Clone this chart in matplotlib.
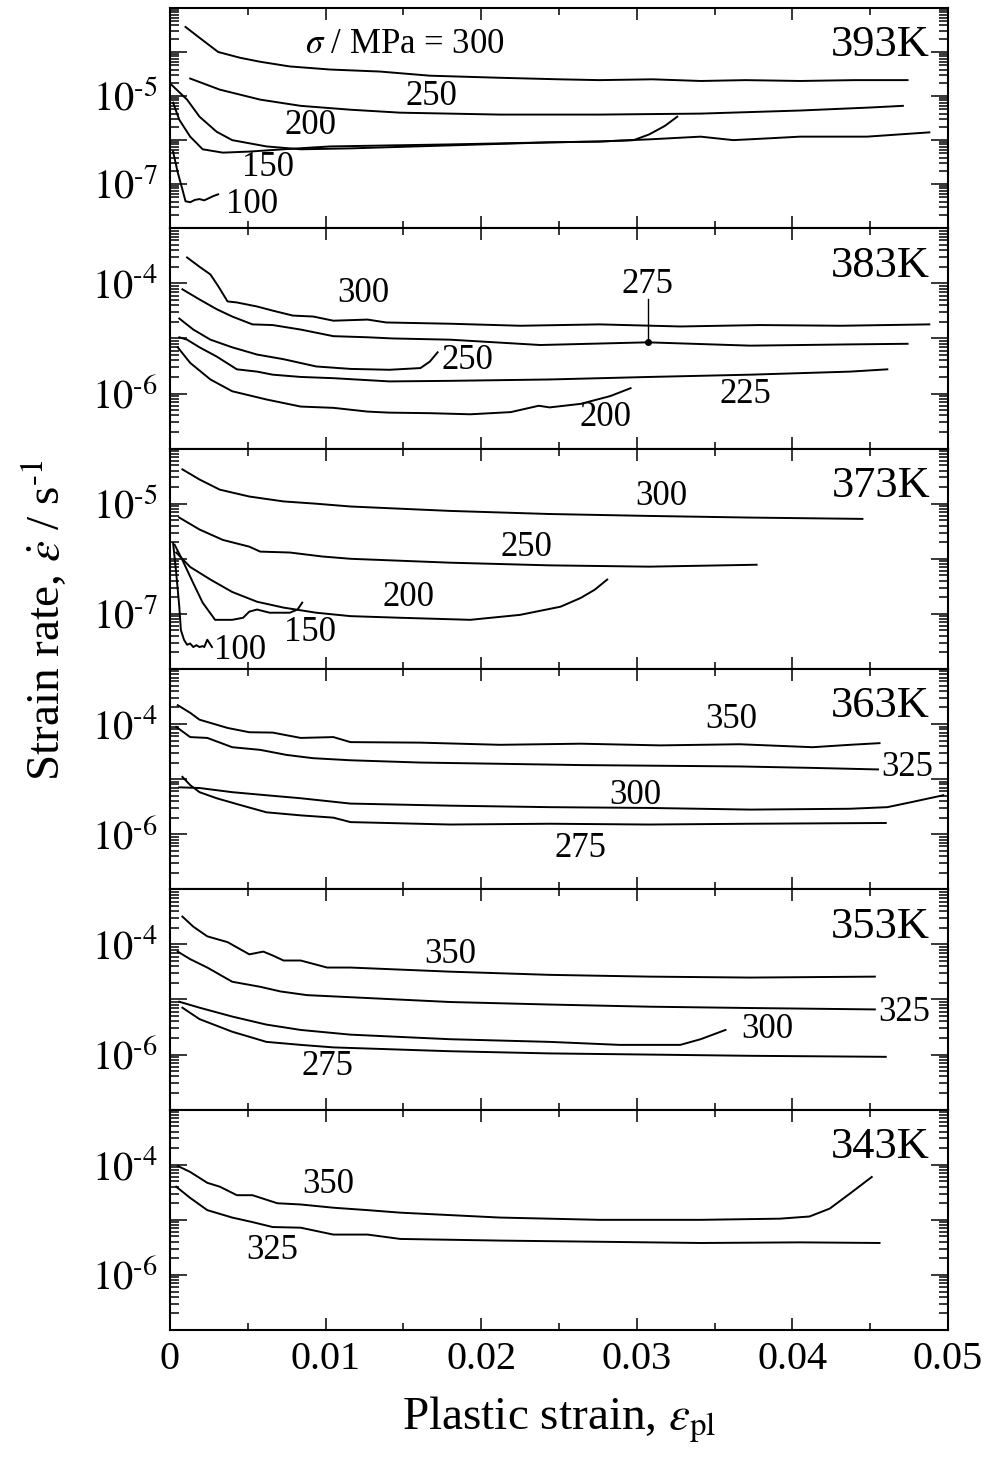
import numpy as np
import matplotlib.pyplot as plt
from matplotlib.ticker import LogLocator, FuncFormatter, MultipleLocator, NullFormatter

plt.rcParams['font.family'] = 'Liberation Serif'
plt.rcParams['mathtext.fontset'] = 'stix'

# ---- 393 K ----
x_393_300 = [0.0010, 0.0019, 0.0031, 0.0045, 0.0058, 0.0077, 0.0103, 0.0135, 0.0167, 0.0212, 0.0250,
             0.0276, 0.0310, 0.0341, 0.0370, 0.0405, 0.0440, 0.0474]
r_393_300 = [3.7e-4, 2.1e-4, 1.0e-4, 7.4e-5, 6.0e-5, 4.7e-5, 4.0e-5, 3.6e-5, 2.9e-5, 2.6e-5, 2.4e-5,
             2.3e-5, 2.4e-5, 2.2e-5, 2.3e-5, 2.2e-5, 2.3e-5, 2.3e-5]
x_393_250 = [0.0013, 0.0032, 0.0058, 0.0084, 0.0116, 0.0148, 0.0212, 0.0276, 0.0341, 0.0405, 0.0450, 0.0471]
r_393_250 = [2.5e-5, 1.4e-5, 8.3e-6, 6.0e-6, 4.9e-6, 4.2e-6, 3.8e-6, 3.8e-6, 4.0e-6, 4.7e-6, 5.5e-6, 6.0e-6]
x_393_200 = [0.0001, 0.0011, 0.0019, 0.0030, 0.0040, 0.0062, 0.0084, 0.0116, 0.0180, 0.0244, 0.0276,
             0.0298, 0.0308, 0.0318, 0.0326]
r_393_200 = [1.8e-5, 8.3e-6, 3.4e-6, 1.55e-6, 1.0e-6, 7.2e-7, 6.2e-7, 6.5e-7, 7.6e-7, 8.9e-7, 9.3e-7,
             1.0e-6, 1.35e-6, 2.1e-6, 3.4e-6]
x_393_150 = [0.0002, 0.0006, 0.0013, 0.0021, 0.0034, 0.0051, 0.0073, 0.0103, 0.0180, 0.0244, 0.0276,
             0.0310, 0.0341, 0.0362, 0.0385, 0.0405, 0.0448, 0.0469, 0.0488]
r_393_150 = [7.1e-6, 2.9e-6, 1.2e-6, 6.2e-7, 5.2e-7, 5.5e-7, 6.2e-7, 7.2e-7, 8.0e-7, 8.9e-7, 9.3e-7,
             1.05e-6, 1.2e-6, 1.0e-6, 1.1e-6, 1.2e-6, 1.2e-6, 1.35e-6, 1.5e-6]
x_393_100 = [0.0002, 0.0005, 0.0008, 0.0010, 0.0013, 0.0016, 0.0019, 0.0022, 0.0026, 0.0028, 0.0031]
r_393_100 = [5.5e-7, 1.85e-7, 7.6e-8, 4.1e-8, 3.9e-8, 4.4e-8, 4.6e-8, 4.3e-8, 5.0e-8, 5.4e-8, 5.9e-8]

# ---- 383 K ----
x_383_300 = [0.0011, 0.0019, 0.0026, 0.0031, 0.0037, 0.0043, 0.0056, 0.0066, 0.0079, 0.0092, 0.0105,
             0.0127, 0.0139, 0.0180, 0.0225, 0.0276, 0.0328, 0.0379, 0.0431, 0.0488]
r_383_300 = [2.95e-4, 2.0e-4, 1.45e-4, 8.9e-5, 4.7e-5, 4.5e-5, 3.8e-5, 3.2e-5, 2.6e-5, 2.5e-5, 2.1e-5,
             2.2e-5, 1.95e-5, 1.85e-5, 1.7e-5, 1.8e-5, 1.65e-5, 1.75e-5, 1.7e-5, 1.8e-5]
x_383_275 = [0.0008, 0.0019, 0.0030, 0.0040, 0.0053, 0.0066, 0.0084, 0.0105, 0.0127, 0.0143, 0.0180,
             0.0238, 0.0307, 0.0373, 0.0437, 0.0474]
r_383_275 = [7.8e-5, 5.1e-5, 3.4e-5, 2.5e-5, 1.8e-5, 1.75e-5, 1.45e-5, 1.1e-5, 1.05e-5, 1.0e-5, 9.5e-6,
             7.6e-6, 8.5e-6, 7.4e-6, 7.8e-6, 8.0e-6]
x_383_250 = [0.0006, 0.0015, 0.0026, 0.0040, 0.0056, 0.0073, 0.0094, 0.0116, 0.0141, 0.0161, 0.0167, 0.0172]
r_383_250 = [2.3e-5, 1.45e-5, 9.5e-6, 6.9e-6, 5.1e-6, 4.2e-6, 3.1e-6, 2.8e-6, 2.7e-6, 2.9e-6, 3.8e-6, 5.6e-6]
x_383_225 = [0.0006, 0.0011, 0.0019, 0.0030, 0.0043, 0.0056, 0.0066, 0.0084, 0.0105, 0.0141, 0.0180,
             0.0244, 0.0308, 0.0373, 0.0437, 0.0461]
r_383_225 = [1.05e-5, 9.5e-6, 6.9e-6, 4.7e-6, 2.75e-6, 2.5e-6, 2.2e-6, 2.0e-6, 1.9e-6, 1.66e-6, 1.7e-6,
             1.8e-6, 2.0e-6, 2.2e-6, 2.5e-6, 2.75e-6]
x_383_200 = [0.0005, 0.0013, 0.0026, 0.0040, 0.0062, 0.0084, 0.0105, 0.0127, 0.0141, 0.0167, 0.0193,
             0.0219, 0.0237, 0.0244, 0.0264, 0.0283, 0.0296]
r_383_200 = [6.9e-6, 3.6e-6, 1.8e-6, 1.1e-6, 7.8e-7, 5.8e-7, 5.5e-7, 4.7e-7, 4.5e-7, 4.4e-7, 4.2e-7,
             4.6e-7, 6.0e-7, 5.6e-7, 6.5e-7, 9.0e-7, 1.25e-6]

# ---- 373 K ----
x_373_300 = [0.0008, 0.0019, 0.0032, 0.0051, 0.0073, 0.0094, 0.0116, 0.0180, 0.0244, 0.0308, 0.0373, 0.0445]
r_373_300 = [4.2e-5, 2.75e-5, 1.8e-5, 1.35e-5, 1.1e-5, 1.0e-5, 8.9e-6, 7.4e-6, 6.5e-6, 6.0e-6, 5.6e-6, 5.3e-6]
x_373_250 = [0.0006, 0.0019, 0.0034, 0.0051, 0.0058, 0.0077, 0.0098, 0.0116, 0.0180, 0.0244, 0.0308, 0.0377]
r_373_250 = [5.6e-6, 3.4e-6, 2.2e-6, 1.66e-6, 1.35e-6, 1.3e-6, 1.1e-6, 1.0e-6, 8.5e-7, 7.6e-7, 7.2e-7, 7.8e-7]
x_373_200 = [0.0004, 0.0013, 0.0026, 0.0040, 0.0056, 0.0073, 0.0094, 0.0116, 0.0148, 0.0193, 0.0225,
             0.0251, 0.0264, 0.0273, 0.0281]
r_373_200 = [1.3e-6, 7.1e-7, 4.2e-7, 2.5e-7, 1.66e-7, 1.3e-7, 1.05e-7, 9.1e-8, 8.5e-8, 7.8e-8, 9.6e-8,
             1.35e-7, 1.95e-7, 2.75e-7, 4.2e-7]
x_373_150 = [0.0003, 0.0008, 0.0015, 0.0021, 0.0029, 0.0040, 0.0047, 0.0051, 0.0056, 0.0064, 0.0077,
             0.0082, 0.0085]
r_373_150 = [1.8e-6, 9.5e-7, 3.6e-7, 1.6e-7, 7.8e-8, 7.8e-8, 8.5e-8, 1.1e-7, 1.2e-7, 1.05e-7, 1.05e-7,
             1.2e-7, 1.6e-7]
x_373_100 = [0.0002, 0.0004, 0.0006, 0.0007, 0.0009, 0.0011, 0.0013, 0.0015, 0.0017, 0.0019, 0.0021,
             0.0022, 0.0024, 0.0027]
r_373_100 = [1.95e-6, 5.6e-7, 1.35e-7, 5.1e-8, 3.4e-8, 2.75e-8, 2.9e-8, 2.5e-8, 2.7e-8, 2.5e-8, 2.6e-8,
             2.5e-8, 3.4e-8, 2.5e-8]

# ---- 363 K ----
x_363_350 = [0.0005, 0.0013, 0.0019, 0.0037, 0.0051, 0.0066, 0.0084, 0.0105, 0.0116, 0.0161, 0.0212,
             0.0264, 0.0315, 0.0366, 0.0413, 0.0437, 0.0456]
r_363_350 = [2.2e-4, 1.6e-4, 1.2e-4, 8.5e-5, 7.1e-5, 7.0e-5, 5.6e-5, 5.8e-5, 4.7e-5, 4.6e-5, 4.2e-5,
             4.4e-5, 4.1e-5, 4.3e-5, 3.8e-5, 4.2e-5, 4.5e-5]
x_363_325 = [0.0004, 0.0013, 0.0024, 0.0040, 0.0058, 0.0075, 0.0092, 0.0116, 0.0161, 0.0212, 0.0264,
             0.0315, 0.0366, 0.0413, 0.0455]
r_363_325 = [8.9e-5, 5.8e-5, 5.6e-5, 3.8e-5, 3.4e-5, 2.75e-5, 2.4e-5, 2.2e-5, 2.0e-5, 1.9e-5, 1.8e-5,
             1.75e-5, 1.7e-5, 1.6e-5, 1.5e-5]
x_363_300 = [0.0006, 0.0019, 0.0040, 0.0062, 0.0084, 0.0116, 0.0180, 0.0244, 0.0308, 0.0373, 0.0437,
             0.0461, 0.0476, 0.0497]
r_363_300 = [7.1e-6, 6.9e-6, 5.8e-6, 5.1e-6, 4.5e-6, 3.6e-6, 3.3e-6, 3.1e-6, 3.0e-6, 2.8e-6, 2.9e-6,
             3.1e-6, 3.8e-6, 5.1e-6]
x_363_275 = [0.0008, 0.0013, 0.0019, 0.0030, 0.0045, 0.0062, 0.0084, 0.0105, 0.0116, 0.0180, 0.0244,
             0.0308, 0.0373, 0.0460]
r_363_275 = [1.1e-5, 7.8e-6, 5.8e-6, 4.5e-6, 3.4e-6, 2.5e-6, 2.2e-6, 2.0e-6, 1.66e-6, 1.5e-6, 1.55e-6,
             1.5e-6, 1.55e-6, 1.6e-6]

# ---- 353 K ----
x_353_350 = [0.0008, 0.0015, 0.0024, 0.0037, 0.0051, 0.0060, 0.0066, 0.0073, 0.0084, 0.0101, 0.0116,
             0.0180, 0.0244, 0.0308, 0.0373, 0.0453]
r_353_350 = [3.2e-4, 2.1e-4, 1.4e-4, 1.1e-4, 6.6e-5, 7.4e-5, 6.3e-5, 5.1e-5, 5.1e-5, 3.8e-5, 3.8e-5,
             3.2e-5, 2.8e-5, 2.6e-5, 2.5e-5, 2.6e-5]
x_353_325 = [0.0005, 0.0013, 0.0024, 0.0040, 0.0058, 0.0071, 0.0088, 0.0116, 0.0180, 0.0244, 0.0308,
             0.0373, 0.0453]
r_353_325 = [7.4e-5, 5.4e-5, 3.8e-5, 2.1e-5, 1.7e-5, 1.4e-5, 1.2e-5, 1.1e-5, 9.0e-6, 8.1e-6, 7.4e-6,
             7.0e-6, 6.6e-6]
x_353_300 = [0.0006, 0.0019, 0.0040, 0.0062, 0.0084, 0.0116, 0.0180, 0.0244, 0.0289, 0.0328, 0.0341, 0.0357]
r_353_300 = [9.1e-6, 7.1e-6, 4.9e-6, 3.5e-6, 2.8e-6, 2.3e-6, 1.9e-6, 1.7e-6, 1.5e-6, 1.5e-6, 1.9e-6, 2.8e-6]
x_353_275 = [0.0008, 0.0019, 0.0040, 0.0062, 0.0084, 0.0105, 0.0180, 0.0244, 0.0308, 0.0373, 0.0460]
r_353_275 = [7.1e-6, 4.4e-6, 2.6e-6, 1.7e-6, 1.5e-6, 1.35e-6, 1.15e-6, 1.05e-6, 1.0e-6, 9.5e-7, 9.1e-7]

# ---- 343 K ----
x_343_350 = [0.0005, 0.0013, 0.0024, 0.0032, 0.0043, 0.0053, 0.0069, 0.0084, 0.0105, 0.0127, 0.0148,
             0.0212, 0.0276, 0.0341, 0.0392, 0.0411, 0.0424, 0.0437, 0.0451]
r_343_350 = [9.5e-5, 7.4e-5, 4.7e-5, 4.0e-5, 2.8e-5, 2.8e-5, 2.0e-5, 1.9e-5, 1.66e-5, 1.5e-5, 1.35e-5,
             1.1e-5, 1.0e-5, 1.0e-5, 1.05e-5, 1.15e-5, 1.6e-5, 3.0e-5, 6.0e-5]
x_343_325 = [0.0004, 0.0013, 0.0024, 0.0040, 0.0053, 0.0066, 0.0084, 0.0105, 0.0127, 0.0148, 0.0212,
             0.0276, 0.0341, 0.0405, 0.0456]
r_343_325 = [4.0e-5, 2.5e-5, 1.5e-5, 1.1e-5, 9.1e-6, 7.4e-6, 7.2e-6, 5.4e-6, 5.4e-6, 4.5e-6, 4.2e-6,
             4.0e-6, 3.8e-6, 3.9e-6, 3.8e-6]

temps = ['393K', '383K', '373K', '363K', '353K', '343K']
ylims = [(1e-8, 1e-3), (1e-7, 1e-3), (1e-8, 1e-4), (1e-7, 1e-3), (1e-7, 1e-3), (1e-7, 1e-3)]
labelled_decades = [(-5, -7), (-4, -6), (-5, -7), (-4, -6), (-4, -6), (-4, -6)]

curves = [
    [(x_393_300, r_393_300), (x_393_250, r_393_250), (x_393_200, r_393_200),
     (x_393_150, r_393_150), (x_393_100, r_393_100)],
    [(x_383_300, r_383_300), (x_383_275, r_383_275), (x_383_250, r_383_250),
     (x_383_225, r_383_225), (x_383_200, r_383_200)],
    [(x_373_300, r_373_300), (x_373_250, r_373_250), (x_373_200, r_373_200),
     (x_373_150, r_373_150), (x_373_100, r_373_100)],
    [(x_363_350, r_363_350), (x_363_325, r_363_325), (x_363_300, r_363_300), (x_363_275, r_363_275)],
    [(x_353_350, r_353_350), (x_353_325, r_353_325), (x_353_300, r_353_300), (x_353_275, r_353_275)],
    [(x_343_350, r_343_350), (x_343_325, r_343_325)],
]

# stress labels written next to the curves: (strain, rate, text)
curve_labels = [
    [(0.0151, 1.45e-4, r'$\sigma$ / MPa = 300'), (0.0168, 9.7e-6, '250'), (0.0090, 2.1e-6, '200'),
     (0.0063, 2.4e-7, '150'), (0.0053, 3.5e-8, '100')],
    [(0.0124, 6.6e-5, '300'), (0.0307, 9.6e-5, '275'), (0.0191, 4.0e-6, '250'),
     (0.0370, 9.5e-7, '225'), (0.0280, 3.6e-7, '200')],
    [(0.0316, 1.35e-5, '300'), (0.0229, 1.6e-6, '250'), (0.0153, 2.0e-7, '200'),
     (0.0090, 4.5e-8, '150'), (0.0045, 2.2e-8, '100')],
    [(0.0361, 1.2e-4, '350'), (0.0474, 1.6e-5, '325'), (0.0299, 5.1e-6, '300'), (0.0264, 5.6e-7, '275')],
    [(0.0180, 6.6e-5, '350'), (0.0472, 5.8e-6, '325'), (0.0384, 2.8e-6, '300'), (0.0101, 6.0e-7, '275')],
    [(0.0102, 4.4e-5, '350'), (0.0066, 2.8e-6, '325')],
]

fig, axs = plt.subplots(6, 1, figsize=(9.87, 14.68), dpi=100, sharex=True)
fig.subplots_adjust(left=0.1722, right=0.9605, top=0.9946, bottom=0.094, hspace=0)


def decade_formatter(keep):
    # only every other decade carries a label, written with a short hyphen
    def fmt(v, pos):
        e = int(round(np.log10(v)))
        return r'$10^{\text{-}%d}$' % -e if e in keep else ''
    return FuncFormatter(fmt)


for i, ax in enumerate(axs):
    for xs, rs in curves[i]:
        ax.plot(xs, rs, color='black', lw=1.4)
    for lx, ly, txt in curve_labels[i]:
        ax.text(lx, ly, txt, fontsize=25, ha='center', va='center')
    ax.text(0.977, 0.83, temps[i], transform=ax.transAxes, fontsize=32, ha='right', va='center')

    ax.set_yscale('log')
    ax.set_ylim(*ylims[i])
    ax.set_xlim(0, 0.05)
    ax.yaxis.set_major_locator(LogLocator(base=10, numticks=20))
    ax.yaxis.set_minor_locator(LogLocator(base=10, subs=np.arange(2, 10), numticks=20))
    ax.yaxis.set_major_formatter(decade_formatter(labelled_decades[i]))
    ax.yaxis.set_minor_formatter(NullFormatter())
    ax.xaxis.set_major_locator(MultipleLocator(0.01))
    ax.xaxis.set_minor_locator(MultipleLocator(0.005))

    ax.tick_params(which='both', direction='in', top=True, right=True, width=1.1)
    ax.tick_params(axis='y', which='major', length=12, pad=9, labelsize=29)
    ax.tick_params(axis='y', which='minor', length=6.5)
    ax.tick_params(axis='x', which='major', length=8.5, pad=8, labelsize=29)
    ax.tick_params(axis='x', which='minor', length=5)
    for sp in ax.spines.values():
        sp.set_linewidth(1.5)

# 275 MPa curve at 383 K is tagged with a leader line and a dot
lead_x = 0.0307
lead_y = np.exp(np.interp(lead_x, x_383_275, np.log(r_383_275)))
axs[1].plot([lead_x, lead_x], [lead_y, 5.3e-5], color='black', lw=1.0)
axs[1].plot(lead_x, lead_y, 'o', color='black', ms=4)

axs[-1].xaxis.set_major_formatter(FuncFormatter(lambda v, pos: '0' if abs(v) < 1e-9 else '%.2f' % v))
axs[-1].set_xlabel(r'Plastic strain, $\varepsilon_{\mathrm{pl}}$', fontsize=34, labelpad=12)
fig.text(45 / 987, 1 - 620 / 1468, r'Strain rate, $\dot{\varepsilon}$ / s$^{\text{-}1}$', fontsize=34,
         rotation=90, ha='center', va='center')

fig.savefig('out.png', dpi=100)
